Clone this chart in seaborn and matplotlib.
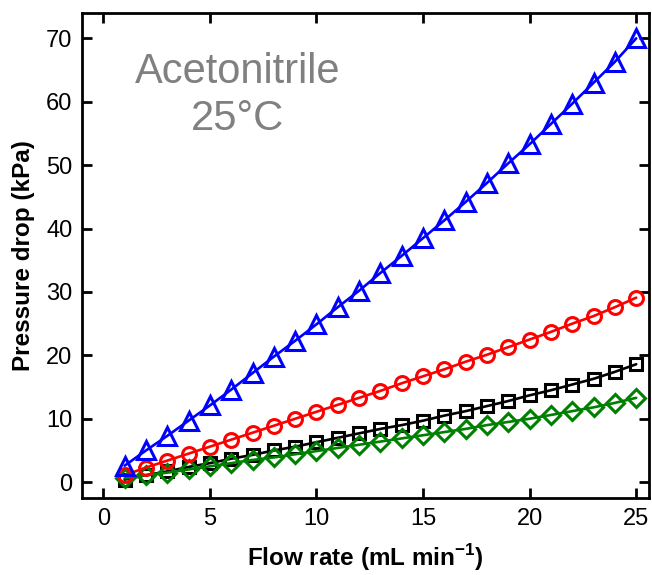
import matplotlib
matplotlib.use("Agg")
import matplotlib.pyplot as plt
import seaborn as sns
import pandas as pd

# Flow rates (mL/min) and measured pressure drops (kPa)
flow = list(range(1, 26))
p_triangle = [2.6, 5.0, 7.3, 9.7, 12.1, 14.6, 17.2, 19.8, 22.3, 24.9, 27.6, 30.2, 33.0,
              35.7, 38.5, 41.3, 44.2, 47.2, 50.3, 53.3, 56.5, 59.7, 63.0, 66.3, 70.0]
p_circle = [1.1, 2.3, 3.4, 4.5, 5.6, 6.7, 7.8, 8.9, 10.0, 11.1, 12.2, 13.3, 14.4,
            15.6, 16.7, 17.8, 19.0, 20.1, 21.3, 22.5, 23.7, 25.0, 26.2, 27.6, 29.1]
p_square = [0.4, 1.1, 1.7, 2.4, 3.0, 3.7, 4.3, 5.0, 5.6, 6.3, 7.0, 7.7, 8.4,
            9.0, 9.7, 10.5, 11.2, 12.0, 12.8, 13.7, 14.5, 15.4, 16.3, 17.4, 18.6]
p_diamond = [0.6, 1.1, 1.5, 2.0, 2.5, 3.0, 3.5, 3.9, 4.4, 4.9, 5.4, 5.9, 6.4,
             6.9, 7.4, 7.9, 8.4, 9.0, 9.5, 10.0, 10.6, 11.2, 11.8, 12.5, 13.3]

x_ticks = [0, 5, 10, 15, 20, 25]
y_ticks = [0, 10, 20, 30, 40, 50, 60, 70]

sns.set_style("ticks")
plt.rcParams["font.family"] = ["Liberation Sans", "DejaVu Sans"]
plt.rcParams["mathtext.fontset"] = "custom"
plt.rcParams["mathtext.bf"] = "Liberation Sans:bold"
plt.rcParams["text.color"] = "black"
plt.rcParams["axes.labelcolor"] = "black"

fig = plt.figure(figsize=(6.52, 5.75), dpi=100)
ax = fig.add_axes([0.1258, 0.1339, 0.8696, 0.8435])

series = [
    (p_square, "black", "s", 8.5),
    (p_diamond, "#008000", "D", 9.5),
    (p_circle, "red", "o", 10),
    (p_triangle, "blue", "^", 12.5),
]
for vals, color, marker, ms in series:
    df = pd.DataFrame({"flow": flow, "dp": vals})
    sns.lineplot(data=df, x="flow", y="dp", ax=ax, color=color, lw=1.9,
                 marker=marker, markersize=ms, markerfacecolor="none",
                 markeredgecolor=color, markeredgewidth=2.2)

ax.set_xlim(-1, 25.6)
ax.set_ylim(-2.5, 74)
ax.set_xticks(x_ticks)
ax.set_yticks(y_ticks)
for s in ax.spines.values():
    s.set_visible(True)
    s.set_linewidth(2.0)
    s.set_color("black")
ax.tick_params(direction="in", length=7.5, width=2.0, labelsize=17,
               top=True, right=True, pad=7, colors="black", labelcolor="black")

ax.set_xlabel("Flow rate (mL min$^{\\mathbf{-1}}$)", fontsize=17.5, fontweight="bold",
              labelpad=9, color="black")
ax.set_ylabel("Pressure drop (kPa)", fontsize=17.5, fontweight="bold",
              labelpad=8, color="black")

ax.text(0.275, 0.83, "Acetonitrile\n25°C", transform=ax.transAxes, ha="center",
        va="center", fontsize=30, color="#808080", linespacing=1.2)

fig.savefig("out.png", dpi=100)
